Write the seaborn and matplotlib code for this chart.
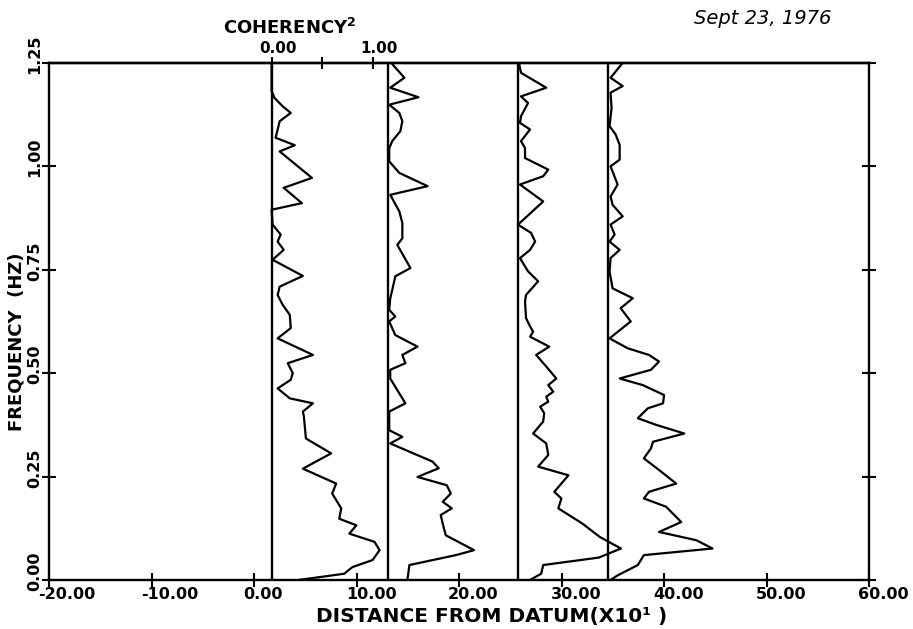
import numpy as np
import pandas as pd
import matplotlib
matplotlib.use("Agg")
import matplotlib.pyplot as plt
from matplotlib.transforms import ScaledTranslation
import seaborn as sns

# ---------------- data ----------------
stations = ["S1", "S2", "S3", "S4"]
baselines = [1.69, 13.07, 25.73, 34.47]     # distance of each station (x10^1)
coh_scale = 9.85                           # distance units per unit coherency^2

freq_s1 = [1.250, 1.182, 1.165, 1.145, 1.129, 1.109, 1.069, 1.051, 1.036, 0.972,
           0.948, 0.911, 0.895, 0.859, 0.835, 0.818, 0.798, 0.774, 0.735, 0.709,
           0.689, 0.665, 0.641, 0.609, 0.584, 0.544, 0.524, 0.500, 0.484, 0.463,
           0.439, 0.427, 0.407, 0.395, 0.342, 0.306, 0.269, 0.233, 0.209, 0.173,
           0.148, 0.132, 0.112, 0.092, 0.072, 0.048, 0.031, 0.015, 0.000]
coh_s1 = [0.00, 0.00, 0.03, 0.11, 0.19, 0.08, 0.04, 0.23, 0.08, 0.40,
          0.12, 0.30, 0.00, 0.01, 0.09, 0.06, 0.12, 0.01, 0.31, 0.08,
          0.06, 0.11, 0.18, 0.19, 0.06, 0.41, 0.16, 0.21, 0.19, 0.06,
          0.18, 0.41, 0.31, 0.32, 0.34, 0.59, 0.31, 0.64, 0.60, 0.69,
          0.67, 0.84, 0.77, 1.02, 1.07, 1.00, 0.80, 0.72, 0.27]

freq_s2 = [1.250, 1.214, 1.190, 1.167, 1.149, 1.129, 1.109, 1.085, 1.061, 1.044,
           1.012, 0.984, 0.952, 0.931, 0.891, 0.863, 0.826, 0.810, 0.754, 0.734,
           0.701, 0.681, 0.653, 0.637, 0.625, 0.592, 0.564, 0.544, 0.524, 0.508,
           0.487, 0.427, 0.407, 0.362, 0.346, 0.330, 0.286, 0.270, 0.249, 0.229,
           0.209, 0.189, 0.173, 0.157, 0.136, 0.108, 0.072, 0.060, 0.036, 0.000]
coh_s2 = [0.03, 0.16, 0.02, 0.30, 0.01, 0.11, 0.14, 0.12, 0.04, 0.01,
          0.01, 0.11, 0.39, 0.02, 0.11, 0.14, 0.14, 0.09, 0.22, 0.07,
          0.04, 0.02, 0.01, 0.07, 0.01, 0.07, 0.29, 0.14, 0.17, 0.02,
          0.02, 0.17, 0.01, 0.01, 0.14, 0.02, 0.44, 0.50, 0.29, 0.58,
          0.62, 0.54, 0.63, 0.52, 0.54, 0.57, 0.85, 0.67, 0.21, 0.19]

freq_s3 = [1.250, 1.226, 1.190, 1.169, 1.153, 1.121, 1.105, 1.089, 1.061, 1.044,
           1.020, 0.992, 0.976, 0.956, 0.915, 0.859, 0.839, 0.818, 0.798, 0.778,
           0.766, 0.746, 0.722, 0.689, 0.673, 0.633, 0.613, 0.600, 0.588, 0.564,
           0.544, 0.516, 0.487, 0.471, 0.455, 0.443, 0.431, 0.419, 0.403, 0.383,
           0.354, 0.330, 0.302, 0.274, 0.253, 0.213, 0.197, 0.173, 0.136, 0.104,
           0.076, 0.054, 0.036, 0.015, 0.000]
coh_s3 = [0.01, 0.03, 0.28, 0.03, 0.10, 0.03, 0.02, 0.12, 0.03, 0.07,
          0.07, 0.30, 0.25, 0.02, 0.25, 0.00, 0.13, 0.17, 0.12, 0.02,
          0.05, 0.10, 0.20, 0.08, 0.07, 0.08, 0.12, 0.15, 0.12, 0.31,
          0.18, 0.28, 0.38, 0.30, 0.35, 0.28, 0.30, 0.22, 0.26, 0.25,
          0.15, 0.28, 0.30, 0.20, 0.50, 0.36, 0.43, 0.40, 0.64, 0.81,
          1.02, 0.80, 0.25, 0.23, 0.12]

freq_s4 = [1.250, 1.214, 1.194, 1.178, 1.141, 1.097, 1.077, 1.052, 1.016, 1.000,
           0.956, 0.927, 0.907, 0.879, 0.859, 0.835, 0.818, 0.798, 0.778, 0.746,
           0.705, 0.681, 0.657, 0.625, 0.584, 0.560, 0.544, 0.528, 0.508, 0.487,
           0.471, 0.447, 0.427, 0.415, 0.391, 0.375, 0.354, 0.334, 0.318, 0.294,
           0.262, 0.233, 0.213, 0.197, 0.177, 0.140, 0.116, 0.096, 0.076, 0.060,
           0.036, 0.011, 0.000]
coh_s4 = [0.15, 0.03, 0.15, 0.03, 0.04, 0.02, 0.08, 0.12, 0.12, 0.03,
          0.10, 0.03, 0.05, 0.15, 0.03, 0.07, 0.02, 0.12, 0.03, 0.02,
          0.05, 0.25, 0.13, 0.23, 0.02, 0.20, 0.41, 0.51, 0.43, 0.12,
          0.35, 0.56, 0.55, 0.40, 0.30, 0.48, 0.76, 0.45, 0.43, 0.36,
          0.53, 0.68, 0.41, 0.36, 0.58, 0.73, 0.51, 0.88, 1.04, 0.36,
          0.30, 0.10, 0.03]

x_ticks = [-20, -10, 0, 10, 20, 30, 40, 50, 60]
y_ticks = [0.00, 0.25, 0.50, 0.75, 1.00, 1.25]
coh_ticks = [0.0, 0.5, 1.0]
coh_tick_labels = ["0.00", "", "1.00"]

freqs = [freq_s1, freq_s2, freq_s3, freq_s4]
cohs = [coh_s1, coh_s2, coh_s3, coh_s4]

rows = []
for st, base, fr, ch in zip(stations, baselines, freqs, cohs):
    for f, c in zip(fr, ch):
        rows.append({"station": st, "freq": f, "distance": base + c * coh_scale})
df = pd.DataFrame(rows)

# ---------------- style ----------------
sns.set_style("ticks")
plt.rcParams["font.family"] = ["DejaVu Sans"]
plt.rcParams["font.weight"] = "bold"
plt.rcParams["mathtext.fontset"] = "dejavusans"
plt.rcParams["text.color"] = "black"
plt.rcParams["axes.labelcolor"] = "black"
plt.rcParams["xtick.color"] = "black"
plt.rcParams["ytick.color"] = "black"
plt.rcParams["xtick.labelcolor"] = "black"
plt.rcParams["ytick.labelcolor"] = "black"

fig = plt.figure(figsize=(9.13, 6.29), dpi=100)
ax = fig.add_axes([0.054, 0.078, 0.898, 0.822])

sns.lineplot(data=df, x="distance", y="freq", units="station", estimator=None,
             sort=False, color="black", linewidth=1.6, ax=ax, legend=False)
for b in baselines:
    ax.axvline(b, color="black", linewidth=1.7, zorder=3)

ax.set_xlim(-20, 60)
ax.set_ylim(0, 1.25)
for s in ax.spines.values():
    s.set_visible(True)
    s.set_linewidth(1.7)
    s.set_color("black")

ax.set_xticks(x_ticks)
ax.set_xticklabels([f"{v:.2f}" for v in x_ticks], ha="left")
ax.set_yticks(y_ticks)
ax.set_yticklabels([f"{v:.2f}" for v in y_ticks], rotation=90, va="bottom")
ax.tick_params(axis="x", direction="inout", length=10, width=1.5, labelsize=11.5,
               pad=0, colors="black")
ax.tick_params(axis="y", direction="inout", length=10, width=1.5, labelsize=11.5,
               pad=0, right=True, colors="black")
for lbl in ax.get_xticklabels():
    lbl.set_transform(lbl.get_transform() + ScaledTranslation(-11 / 100, 0, fig.dpi_scale_trans))
for lbl in ax.get_yticklabels():
    lbl.set_transform(lbl.get_transform() + ScaledTranslation(0, -11 / 100, fig.dpi_scale_trans))

ax.set_xlabel("DISTANCE FROM DATUM(X10\u00b9 )", fontsize=14.5, fontweight="bold",
              color="black")
ax.xaxis.set_label_coords(0.54, -0.0705)
ax.xaxis.label.set_va("center")
ax.set_ylabel("FREQUENCY  (HZ)", fontsize=13, fontweight="bold", color="black")
ax.yaxis.set_label_coords(-0.040, 0.46)
ax.yaxis.label.set_va("center")

# top coherency axis
b0 = baselines[0]
secax = ax.secondary_xaxis("top", functions=(lambda x: (x - b0) / coh_scale,
                                             lambda c: b0 + c * coh_scale))
secax.set_xticks(coh_ticks)
secax.set_xticklabels(coh_tick_labels, ha="left")
secax.tick_params(direction="inout", length=8, width=1.5, labelsize=11, pad=1,
                  colors="black")
secax.spines["top"].set_linewidth(1.7)
secax.spines["top"].set_color("black")
for lbl in secax.get_xticklabels():
    lbl.set_transform(lbl.get_transform() + ScaledTranslation(-12 / 100, 0, fig.dpi_scale_trans))

fig.text(290 / 913, 1 - 28 / 629, "COHERENCY$^{2}$", ha="center", va="center",
         fontsize=13, fontweight="bold", color="black")
fig.text(763 / 913, 1 - 19 / 629, "Sept 23, 1976", ha="center", va="center",
         fontsize=14, fontweight="normal", style="italic", color="black")

fig.savefig("out.png", dpi=100)
